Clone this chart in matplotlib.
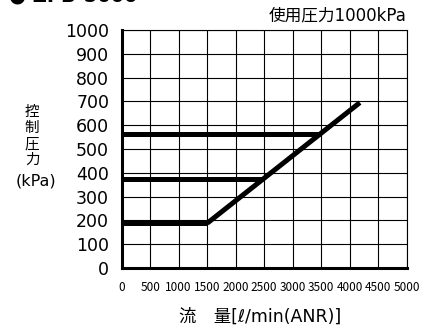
import matplotlib
matplotlib.use('Agg')
import matplotlib.pyplot as plt

plt.rcParams['font.family'] = ['DejaVu Sans', 'Noto Sans CJK JP']

# data
flow_diag = [1500, 4180]
press_diag = [188, 695]
set_pressures = [188, 372, 562]
flow_ticks = [0, 500, 1000, 1500, 2000, 2500, 3000, 3500, 4000, 4500, 5000]
press_ticks = [0, 100, 200, 300, 400, 500, 600, 700, 800, 900, 1000]

fig = plt.figure(figsize=(4.33, 3.29), dpi=100)
ax = fig.add_axes([0.281, 0.1854, 0.658, 0.7234])

ax.set_xlim(0, 5000)
ax.set_ylim(0, 1000)
ax.set_xticks(flow_ticks)
ax.set_yticks(press_ticks)
ax.grid(True, color='black', linewidth=0.8)
ax.set_axisbelow(True)
ax.tick_params(length=0)
ax.set_xticklabels([str(v) for v in flow_ticks], fontsize=8.5, family='Noto Sans CJK JP')
ax.set_yticklabels([str(v) for v in press_ticks], fontsize=12.5)
ax.tick_params(axis='x', pad=9)
ax.tick_params(axis='y', pad=9)

for s in ['left', 'bottom']:
    ax.spines[s].set_linewidth(2.2)
for s in ['top', 'right']:
    ax.spines[s].set_linewidth(0.8)

# diagonal line and the set-pressure lines ending on it
slope = (press_diag[1] - press_diag[0]) / (flow_diag[1] - flow_diag[0])
ax.plot(flow_diag, press_diag, color='black', linewidth=3.6, solid_capstyle='butt', clip_on=False)
for p in set_pressures:
    x_end = flow_diag[0] + (p - press_diag[0]) / slope
    ax.plot([0, x_end], [p, p], color='black', linewidth=3.6, solid_capstyle='butt', clip_on=False)

fig.text(0.94, 0.952, '使用圧力1000kPa', fontsize=12, ha='right', va='center')
fig.text(0.60, 0.036, '流　量[ℓ/min(ANR)]', fontsize=12.5, ha='center', va='center')
fig.text(0.074, 0.588, '控\n制\n圧\n力', fontsize=10.5, ha='center', va='center', linespacing=1.08)
fig.text(0.084, 0.450, '(kPa)', fontsize=11.5, ha='center', va='center')
fig.text(0.02, 0.996, '● ZPB-5000', fontsize=14, fontweight='bold', ha='left', va='baseline')

fig.savefig('out.png', dpi=100)
